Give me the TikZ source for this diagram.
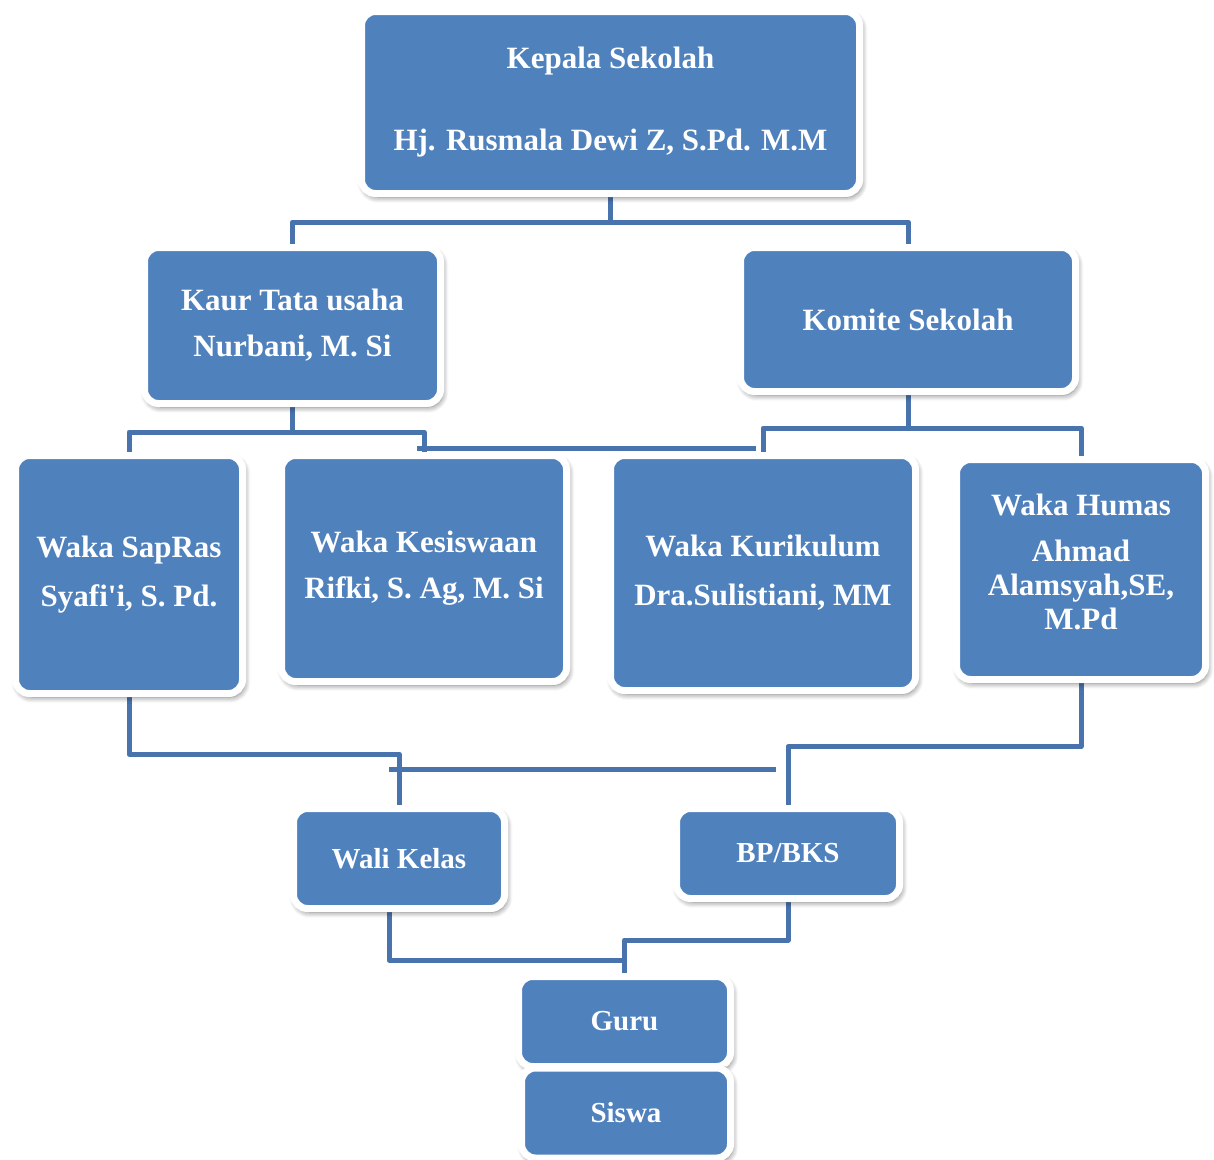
\documentclass[tikz,border=0pt]{standalone}
\usepackage{fontspec}
\setmainfont{Liberation Serif}
\usetikzlibrary{shadows.blur,backgrounds}
\definecolor{boxblue}{HTML}{4F81BD}
\definecolor{lineblue}{HTML}{4873AC}
\begin{document}
\begin{tikzpicture}[x=1pt,y=-1pt,
		box/.style={draw=white,line width=7pt,fill=boxblue,rounded corners=14pt,inner sep=0pt,
			text=white,align=center,font=\fontsize{31}{46}\selectfont\bfseries,
			blur shadow={shadow xshift=2pt,shadow yshift=-3.5pt,shadow opacity=55,
				shadow blur radius=6pt,shadow blur steps=8}},
		smallbox/.style={box,font=\fontsize{29}{34}\selectfont\bfseries},
		link/.style={draw=lineblue,line width=5pt,line join=round}]
	\useasboundingbox (0,0) rectangle (1214,1159);
	% top
	\node[box,minimum width=498pt,minimum height=182pt] (kepala) at (610.5,102.5)
		{Kepala Sekolah\\[36pt]Hj. Rusmala Dewi Z, S.Pd. M.M};
	\node[box,minimum width=296pt,minimum height=156pt] (kaur) at (292.5,325.5)
		{Kaur Tata usaha\\Nurbani, M. Si};
	\node[box,minimum width=335pt,minimum height=144pt] (komite) at (908,319.5)
		{Komite Sekolah};
	% waka
	\node[box,minimum width=227pt,minimum height=238pt] (sapras) at (129,574.5)
		{Waka SapRas\\[3pt]Syafi\textquotesingle i, S. Pd.};
	\node[box,minimum width=285pt,minimum height=226pt] (kesiswaan) at (424,568.5)
		{Waka Kesiswaan\\Rifki, S. Ag, M. Si};
	\node[box,minimum width=305pt,minimum height=235pt] (kurikulum) at (763,573)
		{Waka Kurikulum\\[3pt]Dra.Sulistiani, MM};
	\node[box,minimum width=249pt,minimum height=220pt] (humas) at (1081,569.5) {};
	\node[text=white,align=center,font=\fontsize{31}{34}\selectfont\bfseries] (humastext)
		at ([yshift=8pt]humas.center) {Waka Humas\\[12pt]Ahmad\\Alamsyah,SE,\\M.Pd};
	% bottom
	\node[smallbox,minimum width=211pt,minimum height=100pt] (wali) at (399,858.5) {Wali Kelas};
	\node[smallbox,minimum width=223pt,minimum height=90pt] (bp) at (788,853.5) {BP/BKS};
	\node[smallbox,minimum width=212pt,minimum height=90pt] (guru) at (624.5,1021.5) {Guru};
	\node[smallbox,minimum width=209pt,minimum height=90pt] (siswa) at (626,1113) {Siswa};

	\coordinate (midL) at (417,448);
	\coordinate (midR) at (756,448);
	\coordinate (lowL) at (389,769);
	\coordinate (lowR) at (776,769);

	\begin{scope}[on background layer]
		\draw[link] (kepala.south) -- ++(0,25) -| (kaur.north);
		\draw[link] (kepala.south) -- ++(0,25) -| (komite.north);
		\draw[link] (kaur.south) -- ++(0,25) -| (sapras.north);
		\draw[link] (kaur.south) -- ++(0,25) -| (kesiswaan.north);
		\draw[link] (midL) -- (midR);
		\draw[link] (komite.south) -- ++(0,33) -| (kurikulum.north);
		\draw[link] (komite.south) -- ++(0,33) -| (humas.north);
		\draw[link] (sapras.south) -- ++(0,57) -| (wali.north);
		\draw[link] (lowL) -- (lowR);
		\draw[link] (humas.south) -- ++(0,63.5) -| (bp.north);
		\draw[link] ([xshift=-10pt]wali.south) |- ([yshift=13pt]guru.north);
		\draw[link] (bp.south) -- ++(0,38) -| (guru.north);
	\end{scope}
\end{tikzpicture}
\end{document}
